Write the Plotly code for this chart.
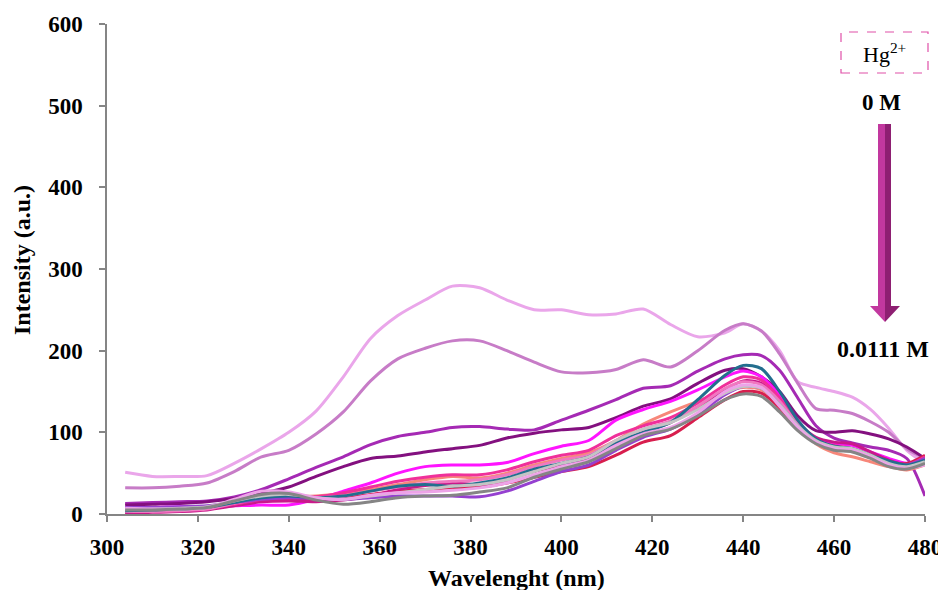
import plotly.graph_objects as go

wavelength = [304, 310, 316, 322, 328, 334, 340, 346, 352, 358, 364, 370, 376, 382, 388, 394, 400,
              406, 412, 418, 424, 430, 436, 440, 444, 448, 452, 456, 460, 464, 468, 472, 476, 480]

s_plum_top = [51, 46, 46, 47, 62, 80, 100, 126, 168, 215, 243, 262, 279, 277, 262, 250, 250,
              244, 245, 251, 232, 217, 222, 233, 224, 200, 162, 155, 150, 143, 128, 105, 78, 62]
s_orchid = [32, 32, 34, 38, 52, 70, 78, 98, 125, 163, 190, 203, 212, 212, 200, 186, 174,
            173, 177, 189, 180, 200, 225, 233, 224, 196, 160, 129, 127, 123, 113, 100, 80, 68]
s_darkorchid = [13, 14, 15, 16, 21, 30, 43, 57, 70, 85, 95, 100, 106, 107, 104, 103, 115,
                127, 140, 154, 157, 175, 190, 195, 194, 176, 142, 108, 93, 87, 82, 78, 68, 22]
s_purple = [11, 12, 13, 15, 19, 25, 33, 46, 58, 68, 71, 76, 80, 84, 93, 99, 103,
            106, 118, 132, 141, 160, 176, 178, 168, 150, 120, 102, 100, 102, 98, 92, 82, 68]
s_magenta = [7, 8, 9, 9, 10, 11, 11, 18, 28, 38, 50, 58, 60, 60, 63, 74, 83,
             90, 115, 128, 138, 152, 168, 175, 168, 145, 112, 92, 87, 84, 76, 68, 62, 65]
s_teal = [4, 5, 6, 8, 14, 20, 22, 20, 22, 28, 34, 36, 34, 38, 44, 55, 62,
          70, 88, 100, 112, 140, 170, 182, 178, 150, 115, 92, 83, 80, 72, 65, 60, 66]
s_salmon = [3, 4, 5, 7, 15, 20, 22, 22, 25, 30, 36, 42, 46, 44, 50, 60, 68,
            75, 90, 110, 125, 138, 150, 155, 152, 135, 108, 86, 75, 70, 64, 58, 54, 60]
s_crimson = [2, 3, 4, 6, 12, 17, 18, 18, 20, 24, 28, 30, 32, 33, 38, 45, 52,
             58, 72, 88, 96, 118, 140, 150, 148, 130, 106, 88, 82, 80, 72, 64, 62, 72]
s_mvred = [1, 2, 3, 5, 10, 15, 16, 15, 17, 22, 30, 35, 38, 36, 42, 52, 60,
           68, 85, 100, 112, 130, 152, 163, 160, 140, 112, 94, 88, 86, 76, 66, 60, 66]
s_deeppink = [4, 4, 5, 7, 12, 18, 20, 21, 26, 33, 40, 45, 48, 48, 54, 64, 72,
              78, 96, 108, 118, 136, 158, 168, 164, 142, 110, 90, 84, 80, 72, 64, 60, 70]
s_hotpink = [3, 3, 4, 6, 13, 19, 21, 20, 22, 28, 33, 38, 40, 42, 48, 58, 66,
             72, 90, 104, 114, 132, 154, 162, 158, 138, 110, 90, 82, 78, 70, 62, 58, 64]
s_blueviolet = [8, 8, 9, 10, 14, 18, 20, 19, 18, 20, 22, 22, 22, 21, 28, 40, 52,
                60, 78, 94, 104, 122, 146, 156, 154, 134, 108, 90, 82, 78, 70, 62, 60, 68]
s_silver = [6, 6, 7, 9, 16, 22, 24, 20, 18, 22, 26, 30, 34, 36, 42, 52, 62,
            70, 90, 104, 112, 128, 148, 156, 154, 134, 108, 90, 82, 80, 72, 62, 58, 64]
s_pinklight = [7, 6, 6, 8, 18, 28, 27, 20, 18, 23, 26, 27, 29, 32, 38, 48, 58,
               66, 84, 98, 106, 124, 150, 158, 155, 132, 106, 88, 80, 78, 70, 60, 56, 60]
s_grey = [5, 5, 6, 8, 16, 24, 25, 17, 12, 15, 20, 22, 23, 27, 32, 45, 55,
          64, 80, 96, 104, 120, 140, 147, 144, 125, 102, 86, 78, 76, 68, 58, 55, 62]

x_ticks = [300, 320, 340, 360, 380, 400, 420, 440, 460, 480]
y_ticks = [0, 100, 200, 300, 400, 500, 600]

series = [
    ("s1", s_plum_top, "#EAA6EA"),
    ("s2", s_orchid, "#C77CC7"),
    ("s3", s_darkorchid, "#A52AB4"),
    ("s4", s_purple, "#83107F"),
    ("s5", s_magenta, "#FF14FF"),
    ("s6", s_salmon, "#F7877A"),
    ("s7", s_crimson, "#D81E4E"),
    ("s8", s_mvred, "#C9198A"),
    ("s9", s_deeppink, "#F0309A"),
    ("s10", s_hotpink, "#F078C0"),
    ("s11", s_blueviolet, "#9540D0"),
    ("s12", s_teal, "#236E8E"),
    ("s13", s_silver, "#C4C4C4"),
    ("s14", s_pinklight, "#EDA3E8"),
    ("s15", s_grey, "#858585"),
]

fig = go.Figure()
for name, vals, col in series:
    fig.add_trace(go.Scatter(x=wavelength, y=vals, mode="lines", name=name,
                             line=dict(color=col, width=3, shape="spline", smoothing=0.8),
                             hoverinfo="skip"))

font_family = "Liberation Serif"
OFF = 8  # page body margin
W, H = 946 - OFF, 590 - OFF
L, T = 107 - OFF, 24 - OFF
pw, ph = 818, 490
R, B = W - L - pw, H - T - ph

def px(xs):
    return (xs - OFF - L) / pw

def py(ys):
    return (T + ph - (ys - OFF)) / ph

shapes = [
    dict(type="rect", xref="paper", yref="paper", x0=px(841), x1=px(928), y0=py(73), y1=py(32),
         line=dict(color="#E050A8", width=1.2, dash="dash"), fillcolor="rgba(0,0,0,0)"),
    dict(type="rect", xref="paper", yref="paper", x0=px(878), x1=px(885), y0=py(308), y1=py(124),
         line=dict(width=0), fillcolor="#C2389F"),
    dict(type="rect", xref="paper", yref="paper", x0=px(885), x1=px(891), y0=py(308), y1=py(124),
         line=dict(width=0), fillcolor="#8E1F72"),
    dict(type="path", xref="paper", yref="paper",
         path=f"M {px(870)} {py(306)} L {px(885)} {py(306)} L {px(885)} {py(322)} Z",
         line=dict(width=0), fillcolor="#C2389F"),
    dict(type="path", xref="paper", yref="paper",
         path=f"M {px(885)} {py(306)} L {px(900)} {py(306)} L {px(885)} {py(322)} Z",
         line=dict(width=0), fillcolor="#8E1F72"),
]

annotations = [
    dict(xref="paper", yref="paper", x=px(884), y=py(53), yanchor="middle", xanchor="center",
         text="Hg<sup>2+</sup>", showarrow=False,
         font=dict(family=font_family, size=22, color="black")),
    dict(xref="paper", yref="paper", x=px(881), y=py(102), yanchor="middle", xanchor="center",
         text="<b>0 M</b>", showarrow=False,
         font=dict(family=font_family, size=23, color="black")),
    dict(xref="paper", yref="paper", x=px(883), y=py(349), yanchor="middle", xanchor="center",
         text="<b>0.0111 M</b>", showarrow=False,
         font=dict(family=font_family, size=24, color="black")),
    dict(xref="paper", yref="paper", x=px(516), y=py(578), yanchor="middle", xanchor="center",
         text="<b>Wavelenght (nm)</b>", showarrow=False,
         font=dict(family=font_family, size=24, color="black")),
    dict(xref="paper", yref="paper", x=px(22), y=py(260), yanchor="middle", xanchor="center",
         text="<b>Intensity (a.u.)</b>", showarrow=False, textangle=-90,
         font=dict(family=font_family, size=24, color="black")),
]

axis_common = dict(showgrid=False, zeroline=False, showline=True, linecolor="#858585",
                   linewidth=1.5, ticks="outside", ticklen=6, tickcolor="#858585", tickwidth=1.5,
                   automargin=False,
                   tickfont=dict(family=font_family, size=23, color="black", weight="bold"))

fig.update_layout(
    width=W, height=H,
    margin=dict(l=L, r=R, t=T, b=B),
    paper_bgcolor="white", plot_bgcolor="white",
    showlegend=False,
    hovermode=False,
    shapes=shapes,
    annotations=annotations,
    font=dict(family=font_family, color="black"),
    xaxis=dict(range=[300, 480], tickvals=x_ticks, ticklabelstandoff=6, **axis_common),
    yaxis=dict(range=[0, 600], tickvals=y_ticks, ticklabelstandoff=12, **axis_common),
)

fig.write_html("out.html")
